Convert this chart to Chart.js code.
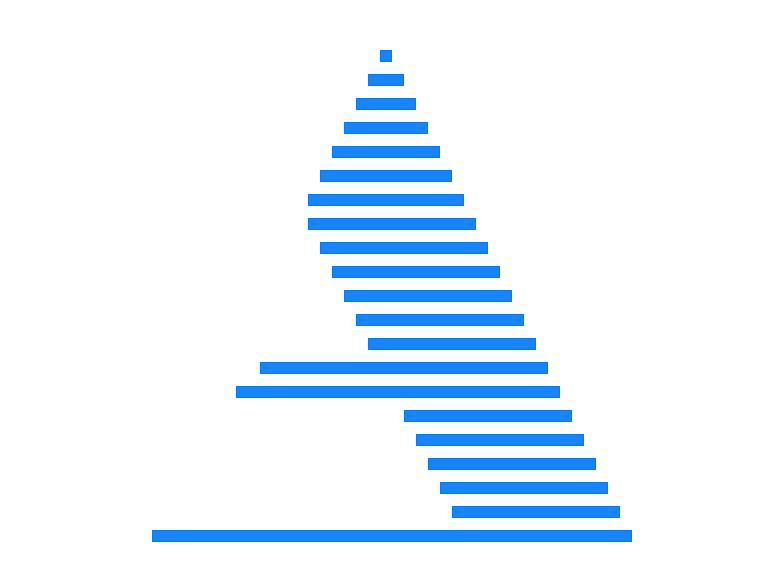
<!DOCTYPE html>
<html>
<head>
<meta charset="utf-8">
<script src="https://cdn.jsdelivr.net/npm/chart.js@4"></script>
<style>
  html, body { margin: 0; padding: 0; background: #fff; }
  #wrap { width: 758px; height: 565px; }
</style>
</head>
<body>
<div id="wrap"><canvas id="c"></canvas></div>
<script>
const categories = ['1','2','3','4','5','6','7','8','9','10','11','12','13','14','15','16','17','18','19','20','21'];
const starts = [19,18,17,16,15,14,13,13,14,15,16,17,18,9,7,21,22,23,24,25,0];
const ends   = [20,21,22,23,24,25,26,27,28,29,30,31,32,33,34,35,36,37,38,39,40];

const ranges = categories.map((c, i) => [starts[i], ends[i]]);

new Chart(document.getElementById('c'), {
  type: 'bar',
  data: {
    labels: categories,
    datasets: [{
      data: ranges,
      backgroundColor: 'rgba(0,123,255,0.92)',
      borderColor: 'rgb(0,123,255)',
      borderWidth: 1,
      borderSkipped: false,
      categoryPercentage: 1,
      barPercentage: 0.5
    }]
  },
  options: {
    indexAxis: 'y',
    responsive: true,
    maintainAspectRatio: false,
    animation: false,
    layout: { padding: { left: 152, right: 126, top: 44, bottom: 17 } },
    plugins: { legend: { display: false }, tooltip: { enabled: false } },
    scales: {
      x: { display: false, min: 0, max: 40 },
      y: { display: false }
    }
  }
});
</script>
</body>
</html>
